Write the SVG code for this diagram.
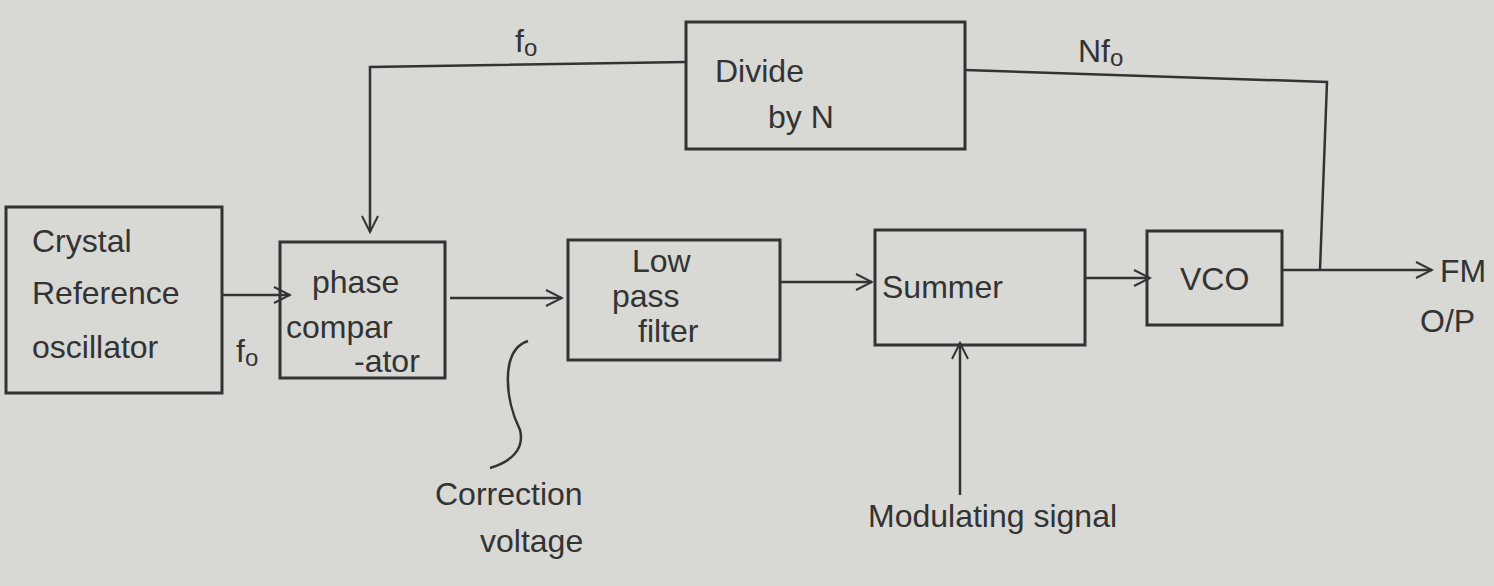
<svg xmlns="http://www.w3.org/2000/svg" width="1494" height="586" viewBox="0 0 1494 586">
<defs>
<marker id="arr" viewBox="0 0 20 20" refX="18" refY="10" markerWidth="20" markerHeight="20" markerUnits="userSpaceOnUse" orient="auto">
<path d="M2,2 L18,10 L2,18" fill="none" stroke="#333" stroke-width="2"/>
</marker>
<style>
.box{fill:none;stroke:#333;stroke-width:3}
.ln{fill:none;stroke:#333;stroke-width:2.5}
text{font-family:"Liberation Sans","DejaVu Sans",sans-serif;fill:#333;font-size:32px}
</style>
</defs>
<rect width="1494" height="586" fill="#d8d8d5"/>
<g id="crystal">
<rect class="box" x="6" y="207" width="216" height="186"/>
<text x="32" y="252">Crystal</text>
<text x="32" y="304">Reference</text>
<text x="32" y="358">oscillator</text>
</g>
<g id="phase">
<rect class="box" x="280" y="242" width="165" height="136"/>
<text x="312" y="293">phase</text>
<text x="286" y="338">compar</text>
<text x="354" y="372" font-size="20">-ator</text>
</g>
<g id="lpf">
<rect class="box" x="568" y="240" width="212" height="120"/>
<text x="632" y="272">Low</text>
<text x="612" y="307">pass</text>
<text x="638" y="342">filter</text>
</g>
<g id="summer">
<rect class="box" x="875" y="230" width="210" height="115"/>
<text x="882" y="298">Summer</text>
</g>
<g id="vco">
<rect class="box" x="1147" y="231" width="135" height="94"/>
<text x="1180" y="290">VCO</text>
</g>
<g id="divide">
<rect class="box" x="686" y="22" width="279" height="127"/>
<text x="715" y="82">Divide</text>
<text x="768" y="128">by N</text>
</g>
<g id="connectors">
<line class="ln" x1="222" y1="295" x2="290" y2="295" marker-end="url(#arr)"/>
<line class="ln" x1="450" y1="298" x2="562" y2="298" marker-end="url(#arr)"/>
<line class="ln" x1="780" y1="282" x2="872" y2="282" marker-end="url(#arr)"/>
<line class="ln" x1="1085" y1="278" x2="1150" y2="278" marker-end="url(#arr)"/>
<line class="ln" x1="1282" y1="270" x2="1432" y2="270" marker-end="url(#arr)"/>
<polyline class="ln" points="1320,270 1327,82 965,70"/>
<polyline class="ln" points="686,62 370,67 370,232" marker-end="url(#arr)"/>
<line class="ln" x1="960" y1="495" x2="960" y2="343" marker-end="url(#arr)"/>
<path class="ln" d="M528,341 C500,350 505,400 520,430 C525,450 510,462 490,468"/>
</g>
<g id="labels">
<text x="236" y="362">f<tspan font-size="24" dy="4">o</tspan></text>
<text x="515" y="52">f<tspan font-size="24" dy="4">o</tspan></text>
<text x="1078" y="62">Nf<tspan font-size="24" dy="4">o</tspan></text>
<text x="1440" y="282" font-size="24">FM</text>
<text x="1420" y="332">O/P</text>
<text x="435" y="505">Correction</text>
<text x="480" y="552">voltage</text>
<text x="868" y="527">Modulating signal</text>
</g>
</svg>
